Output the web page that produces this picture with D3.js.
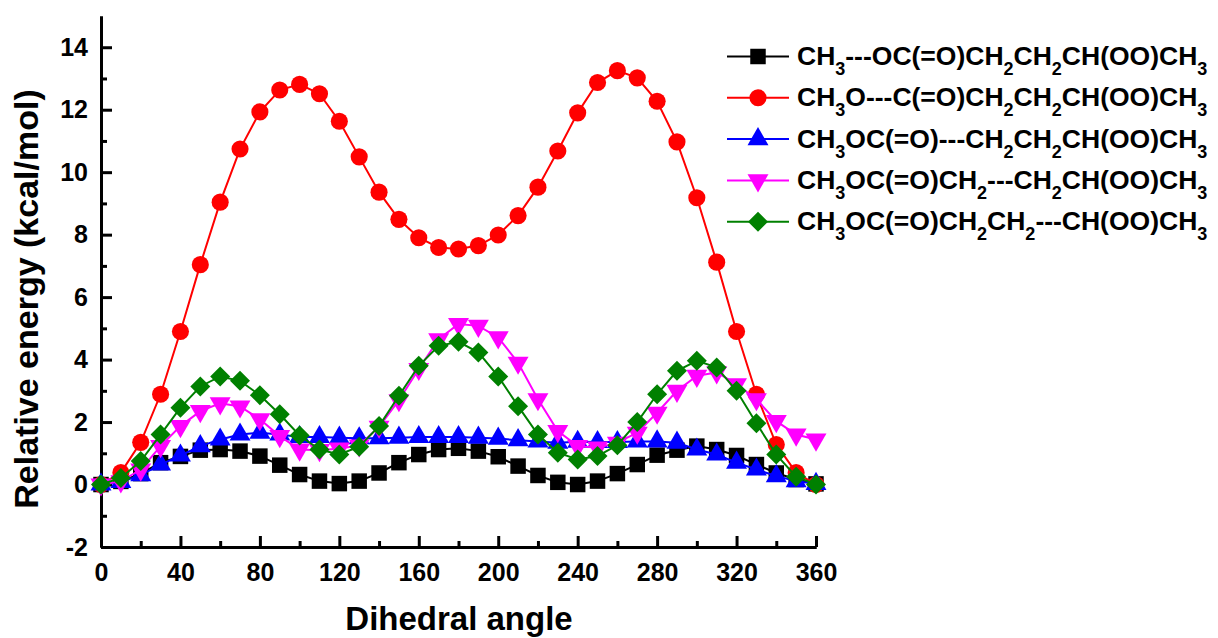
<!DOCTYPE html>
<html>
<head>
<meta charset="utf-8">
<script src="https://cdn.jsdelivr.net/npm/d3@7"></script>
<style>
  body { margin: 0; background: #fff; }
  text { font-family: "Liberation Sans", Arial, sans-serif; font-weight: bold; }
</style>
</head>
<body>
<div id="my_dataviz"></div>
<script>
// data, one point every 10 degrees
var angles = d3.range(0, 361, 10);

var seriesNames = [
  "CH3---OC(=O)CH2CH2CH(OO)CH3",
  "CH3O---C(=O)CH2CH2CH(OO)CH3",
  "CH3OC(=O)---CH2CH2CH(OO)CH3",
  "CH3OC(=O)CH2---CH2CH(OO)CH3",
  "CH3OC(=O)CH2CH2---CH(OO)CH3"
];

var blackVals = [0, 0.1, 0.35, 0.7, 0.9, 1.1, 1.12, 1.07, 0.91, 0.62, 0.32, 0.11, 0.03, 0.11, 0.37, 0.7, 0.96,
  1.12, 1.16, 1.07, 0.89, 0.59, 0.29, 0.07, 0.0, 0.11, 0.35, 0.64, 0.94, 1.1, 1.23, 1.12, 0.93, 0.64, 0.37, 0.16, 0.02];

var redVals = [0, 0.38, 1.35, 2.89, 4.9, 7.04, 9.04, 10.74, 11.93, 12.63, 12.81, 12.51, 11.63, 10.49, 9.36, 8.49, 7.9,
  7.59, 7.54, 7.65, 7.99, 8.61, 9.52, 10.68, 11.9, 12.87, 13.25, 13.02, 12.27, 10.97, 9.18, 7.12, 4.9, 2.89, 1.28, 0.38, 0.0];

var blueVals = [0, 0.08, 0.3, 0.64, 0.93, 1.23, 1.44, 1.6, 1.66, 1.6, 1.52, 1.52, 1.5, 1.48, 1.48, 1.5, 1.52,
  1.52, 1.52, 1.5, 1.47, 1.42, 1.38, 1.34, 1.37, 1.36, 1.36, 1.38, 1.38, 1.34, 1.12, 0.96, 0.7, 0.48, 0.27, 0.11, 0.02];

var magentaVals = [0, 0.1, 0.48, 1.23, 1.87, 2.35, 2.6, 2.5, 2.09, 1.55, 1.12, 1.1, 1.15, 1.25, 1.85, 2.7, 3.7,
  4.65, 5.14, 5.08, 4.71, 3.9, 2.73, 1.71, 1.23, 1.18, 1.34, 1.66, 2.3, 3.0, 3.48, 3.59, 3.21, 2.73, 2.03, 1.6, 1.44];

var greenVals = [0, 0.21, 0.75, 1.6, 2.46, 3.14, 3.46, 3.32, 2.86, 2.25, 1.57, 1.12, 0.96, 1.21, 1.87, 2.84, 3.8,
  4.44, 4.57, 4.23, 3.46, 2.51, 1.6, 1.02, 0.8, 0.91, 1.26, 2.0, 2.89, 3.64, 3.96, 3.75, 3.0, 1.96, 0.96, 0.25, 0.0];

var xTicks = [0, 40, 80, 120, 160, 200, 240, 280, 320, 360];
var yTicks = [-2, 0, 2, 4, 6, 8, 10, 12, 14];

var colors = ["#000000", "#ff0000", "#0000ff", "#ff00ff", "#008000"];

var width = 1218, height = 638;

document.addEventListener('DOMContentLoaded', function () {

var svg = d3.select("#my_dataviz")
  .append("svg")
    .attr("width", width)
    .attr("height", height);

var x = d3.scaleLinear().domain([0, 360]).range([101, 816]);
var y = d3.scaleLinear().domain([-2, 15]).range([547, 16]);

// plain hyphen for negatives, like the original
var fmt = function(d) { return String(d); };

// axes, ticks point inward like Origin
svg.append("g")
  .attr("transform", "translate(101,0)")
  .call(d3.axisLeft(y).tickValues(yTicks).tickFormat(fmt).tickSizeInner(-11).tickSizeOuter(0).tickPadding(13));
svg.append("g")
  .attr("transform", "translate(101,0)")
  .call(d3.axisLeft(y).tickValues(d3.range(-1, 15, 2)).tickSizeInner(-6).tickSizeOuter(0).tickFormat(""));

svg.append("g")
  .attr("transform", "translate(0,547)")
  .call(d3.axisBottom(x).tickValues(xTicks).tickFormat(fmt).tickSizeInner(-11).tickSizeOuter(0).tickPadding(16));
svg.append("g")
  .attr("transform", "translate(0,547)")
  .call(d3.axisBottom(x).tickValues(d3.range(20, 360, 40)).tickSizeInner(-6).tickSizeOuter(0).tickFormat(""));

svg.selectAll(".domain").attr("stroke", "#000").attr("stroke-width", 3);
svg.selectAll(".tick line").attr("stroke", "#000").attr("stroke-width", 3);
svg.selectAll(".tick text")
  .attr("font-size", 25)
  .attr("font-family", "'Liberation Sans', Arial, sans-serif")
  .attr("font-weight", "bold")
  .attr("fill", "#000");

// axis titles
svg.append("text")
  .attr("text-anchor", "middle")
  .attr("transform", "translate(38,299) rotate(-90)")
  .style("font-size", "34px")
  .text("Relative energy (kcal/mol)");

svg.append("text")
  .attr("text-anchor", "middle")
  .attr("x", 459)
  .attr("y", 630)
  .style("font-size", "33px")
  .text("Dihedral angle");

// series
var allVals = [blackVals, redVals, blueVals, magentaVals, greenVals];
var symbols = [
  {type: d3.symbolSquare, size: 240, rot: 0},
  {type: d3.symbolCircle, size: 230, rot: 0},
  {type: d3.symbolTriangle, size: 190, rot: 0},
  {type: d3.symbolTriangle, size: 190, rot: 180},
  {type: d3.symbolSquare, size: 200, rot: 45}
];

var line = d3.line()
  .x(function(d) { return x(d[0]); })
  .y(function(d) { return y(d[1]); });

allVals.forEach(function(vals, i) {
  var pts = angles.map(function(a, j) { return [a, vals[j]]; });
  var g = svg.append("g");
  g.append("path")
    .attr("d", line(pts))
    .attr("fill", "none")
    .attr("stroke", colors[i])
    .attr("stroke-width", 2);
  g.selectAll("path.mk")
    .data(pts)
    .join("path")
      .attr("class", "mk")
      .attr("d", d3.symbol().type(symbols[i].type).size(symbols[i].size))
      .attr("transform", function(d) {
        return `translate(${x(d[0])},${y(d[1])}) rotate(${symbols[i].rot})`;
      })
      .attr("fill", colors[i]);
});

// legend
var legend = svg.append("g");
seriesNames.forEach(function(name, i) {
  var ly = 56.5 + i * 41.3;
  legend.append("line")
    .attr("x1", 727).attr("x2", 789)
    .attr("y1", ly).attr("y2", ly)
    .attr("stroke", colors[i])
    .attr("stroke-width", 2);
  legend.append("path")
    .attr("d", d3.symbol().type(symbols[i].type).size(symbols[i].size))
    .attr("transform", `translate(758,${ly}) rotate(${symbols[i].rot})`)
    .attr("fill", colors[i]);

  var t = legend.append("text")
    .attr("x", 797)
    .attr("y", ly + 8.5)
    .style("font-size", "26.5px");
  // digits become subscripts; the shift back up goes on the next piece
  var shift = 0;
  name.split(/(\d)/).forEach(function(part) {
    if (part === "") return;
    if (/\d/.test(part)) {
      t.append("tspan").attr("dy", 10 + shift).style("font-size", "18px").text(part);
      shift = -10;
    } else {
      t.append("tspan").attr("dy", shift).text(part);
      shift = 0;
    }
  });
});

});
</script>
</body>
</html>
